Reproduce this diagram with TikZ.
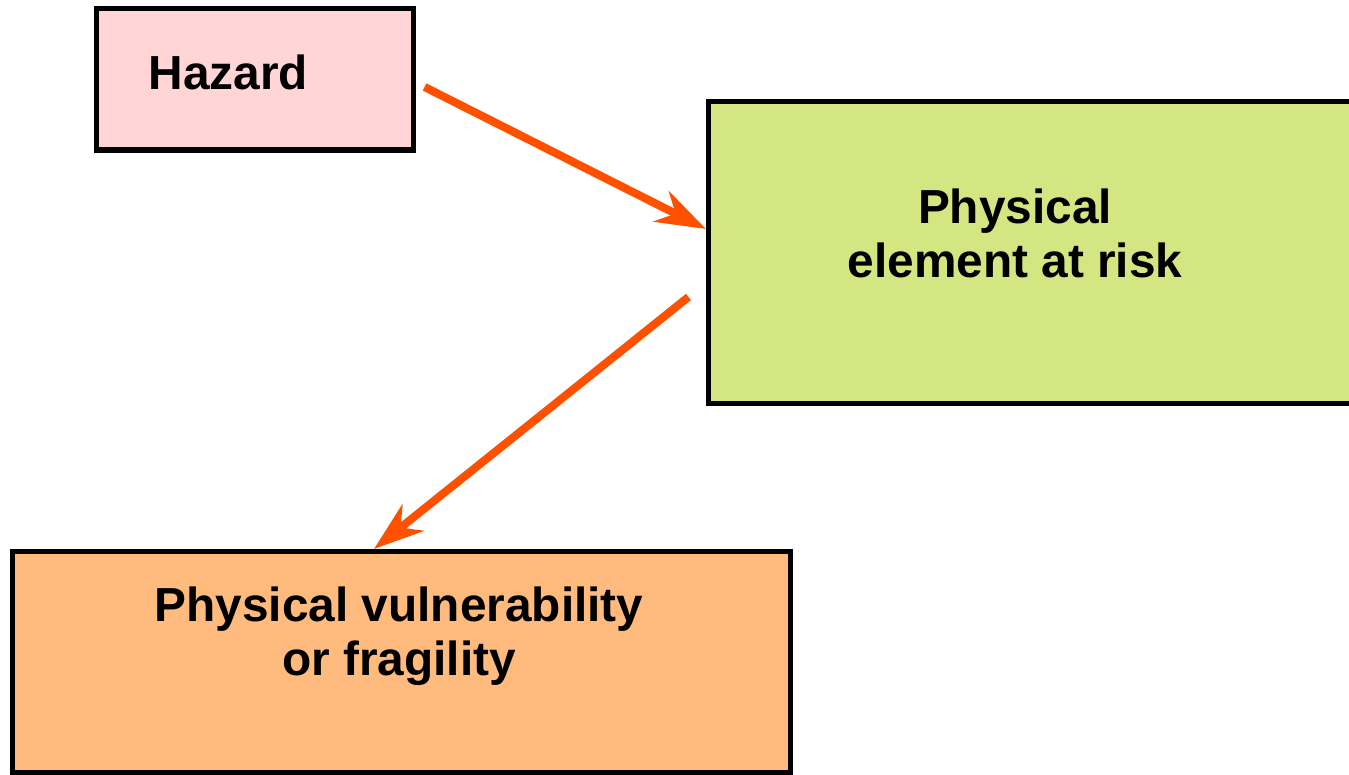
\documentclass[tikz,border=0pt]{standalone}
\usepackage{fontspec}
\setmainfont{Liberation Sans}
\usetikzlibrary{arrows.meta}

\definecolor{hazardpink}{RGB}{255,213,213}
\definecolor{riskgreen}{RGB}{212,230,129}
\definecolor{fragorange}{RGB}{255,187,125}
\definecolor{arrowred}{RGB}{255,80,0}

\tikzset{
  box/.style={draw=black, line width=1.45pt, inner sep=0pt},
  boxtext/.style={font=\fontsize{13.6}{15.4}\selectfont\bfseries, align=center, inner sep=0pt},
  link/.style={draw=arrowred, line width=2.3pt,
    -{Stealth[length=0.5cm, width=0.34cm, inset=0.16cm]}}
}

\begin{document}
\begin{tikzpicture}

    % Fix the page to the size of the reference
    \useasboundingbox (0,0) rectangle (13.49,-7.75);
    \clip (0,0) rectangle (13.49,-7.75);

    % The three boxes
    \node[box, fill=hazardpink, minimum width=3.17cm, minimum height=1.415cm] (hazard) at (2.55,-0.7925) {};
    \node[box, fill=riskgreen, minimum width=6.505cm, minimum height=3.02cm] (risk) at (10.3375,-2.525) {};
    \node[box, fill=fragorange, minimum width=7.78cm, minimum height=2.21cm] (fragility) at (4.015,-6.62) {};

    % Labels of the boxes (base is the last line)
    \node[boxtext, anchor=base] (hazardtext) at (2.285,-0.90) {Hazard};
    \node[boxtext, anchor=base] (risktext) at (10.15,-2.775) {Physical\\element at risk};
    \node[boxtext, anchor=base] (fragilitytext) at (3.99,-6.755) {Physical vulnerability\\or fragility};

    % Arrows between the boxes
    \draw[link] ([shift={(0.085,-0.0775)}]hazard.east) -- ([yshift=0.235cm]risk.west);
    \draw[link] ([shift={(-0.175,-0.445)}]risk.west) -- ([xshift=-0.275cm]fragility.north);

\end{tikzpicture}
\end{document}
